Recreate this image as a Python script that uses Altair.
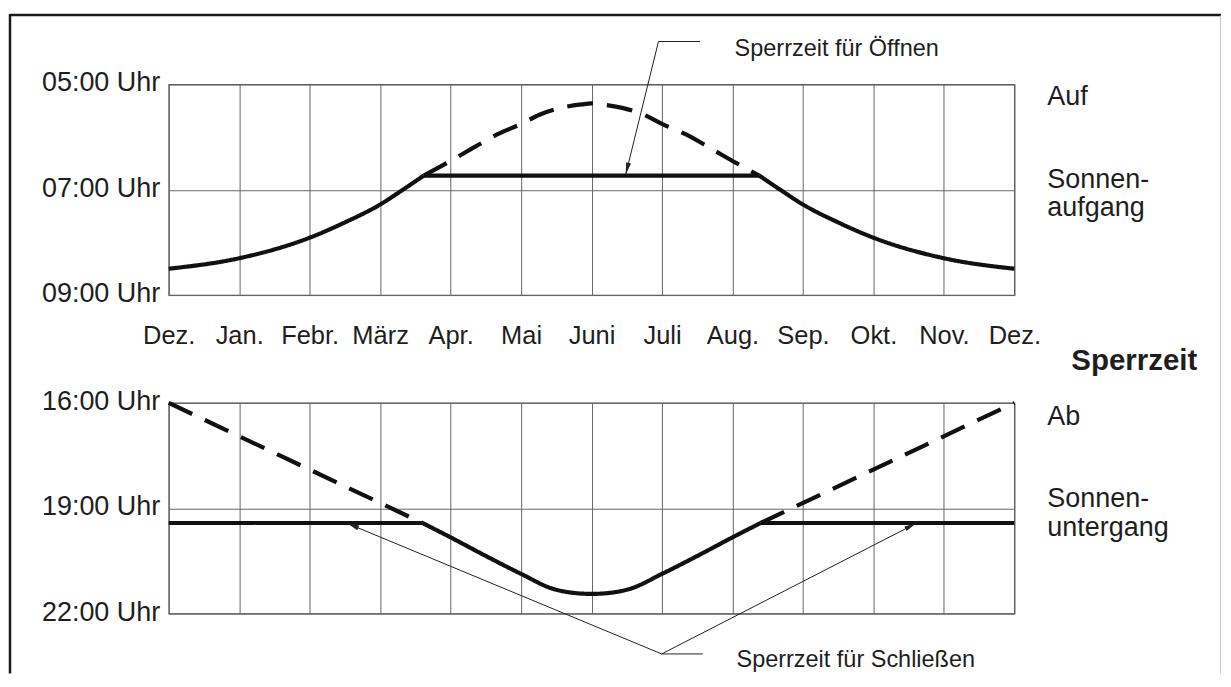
import math
import altair as alt
import pandas as pd

FONT = "Liberation Sans"
INK = "#1e1e1e"

# ---------------- data ----------------
months = ["Dez.", "Jan.", "Febr.", "März", "Apr.", "Mai", "Juni",
          "Juli", "Aug.", "Sep.", "Okt.", "Nov.", "Dez."]
month_pos = list(range(13))

rise_ticks = [5, 7, 9]
rise_tick_labels = ["05:00 Uhr", "07:00 Uhr", "09:00 Uhr"]
set_ticks = [16, 19, 22]
set_tick_labels = ["16:00 Uhr", "19:00 Uhr", "22:00 Uhr"]

# Sonnenaufgang (hours), solid left part
rise_left_t = [0, 1, 2, 2.5, 3, 3.3, 3.62]
rise_left_h = [8.50, 8.30, 7.91, 7.62, 7.28, 7.02, 6.73]
# Sonnenaufgang dashed (inside blocked period)
rise_mid_t = [3.62, 3.95, 4.3, 4.66, 5.0, 5.27, 5.55, 5.86, 6.0,
              6.14, 6.45, 6.73, 7.0, 7.34, 7.7, 8.05, 8.38]
rise_mid_h = [6.73, 6.49, 6.22, 5.95, 5.75, 5.57, 5.45, 5.38, 5.36,
              5.38, 5.45, 5.57, 5.75, 5.95, 6.22, 6.49, 6.73]
# Sonnenaufgang solid right part
rise_right_t = [8.38, 8.7, 9, 9.5, 10, 11, 12]
rise_right_h = [6.73, 7.02, 7.28, 7.62, 7.91, 8.30, 8.50]
# Sperrzeit für Öffnen (flat)
rise_block_t = [3.62, 8.38]
rise_block_h = [6.73, 6.73]

# Sonnenuntergang dashed left
set_left_t = [0, 3.6]
set_left_h = [16.0, 19.42]
# Sonnenuntergang solid (summer)
set_mid_t = [3.6, 4.0, 4.5, 5.0, 5.46, 5.7, 6.0, 6.3, 6.54, 7.0, 7.5, 8.0, 8.4]
set_mid_h = [19.42, 19.83, 20.36, 20.87, 21.30, 21.40, 21.44, 21.40, 21.30,
             20.87, 20.36, 19.83, 19.42]
# Sonnenuntergang dashed right
set_right_t = [8.4, 12]
set_right_h = [19.42, 16.0]
# Sperrzeit für Schließen (flat)
set_block_l_t = [0, 3.6]
set_block_l_h = [19.42, 19.42]
set_block_r_t = [8.4, 12]
set_block_r_h = [19.42, 19.42]

# annotation leader lines (month index, hour)
open_lead_t = [7.54, 6.95, 6.485]
open_lead_h = [4.185, 4.185, 6.71]
close_lead_a_t = [7.58, 6.995, 2.532]
close_lead_a_h = [23.15, 23.15, 19.43]
close_lead_b_t = [6.995, 10.607]
close_lead_b_h = [23.15, 19.43]

# texts
top_text = ["Sperrzeit für Öffnen"]
top_text_t = [8.03]
top_text_h = [4.456]
top_side = ["Auf", ["Sonnen-", "aufgang"]]
top_side_t = [12.468, 12.468]
top_side_h = [5.385, 6.966]
bot_text = ["Sperrzeit für Schließen"]
bot_text_t = [8.057]
bot_text_h = [23.53]
bot_side = ["Ab", ["Sonnen-", "untergang"]]
bot_side_t = [12.468, 12.468]
bot_side_h = [16.626, 18.977]
head_text = ["Sperrzeit"]
head_t = [14.597]
head_h = [15.07]

# ---------------- layout ----------------
W = 847
H = 211

def segs(parts):
    rows = []
    for name, ts, hs, style in parts:
        for i, (t, h) in enumerate(zip(ts, hs)):
            rows.append({"t": t, "h": h, "seg": name, "style": style, "i": i})
    return pd.DataFrame(rows)

def arrow_rows(parts, hspan):
    rows = []
    for (t0, h0, t1, h1) in parts:
        dx = (t1 - t0) * W / 12.0
        dy = (h1 - h0) * H / hspan
        ang = math.degrees(math.atan2(dx, -dy)) % 360
        rows.append({"t": t1, "h": h1, "ang": ang})
    return pd.DataFrame(rows)

month_expr = "[" + ",".join("'%s'" % m for m in months) + "][datum.value]"

def tick_expr(vals, labs):
    return " : ".join("datum.value == %s ? '%s'" % (v, l) for v, l in zip(vals, labs)) + " : ''"

def x_enc(show_labels):
    return alt.X(
        "t:Q",
        scale=alt.Scale(domain=[0, 12], nice=False, zero=False),
        axis=alt.Axis(values=month_pos, labelExpr=month_expr, labels=show_labels,
                      grid=True, gridColor="#666", gridWidth=1, domain=False,
                      ticks=False, labelPadding=29, labelFontSize=25.5, labelFont=FONT,
                      labelColor=INK, labelAngle=0, labelFlush=False,
                      labelOverlap=False, title=None),
    )

def y_enc(dom, vals, labs):
    return alt.Y(
        "h:Q",
        scale=alt.Scale(domain=dom, reverse=True, nice=False, zero=False),
        axis=alt.Axis(values=vals, labelExpr=tick_expr(vals, labs), grid=True,
                      gridColor="#666", gridWidth=1, domain=False, ticks=False,
                      labelPadding=9, labelFontSize=27, labelFont=FONT,
                      labelColor=INK, labelOffset=-1.5, title=None),
    )

ARROW = "M0,0L0.5,2.4L-0.5,2.4Z"
dash_scale = alt.Scale(domain=["solid", "dashed"], range=[[1, 0], [26, 14]])

def text_df(labels, ts, hs):
    return pd.DataFrame({"label": labels, "t": ts, "h": hs})

def panel(line_df, lead_df, arrow_df, text_df_, side_df, X, Y, extra=None):
    lines = alt.Chart(line_df).mark_line(
        strokeWidth=4.2, color="#111", interpolate="monotone", strokeCap="butt"
    ).encode(x=X, y=Y, detail="seg:N", order="i:Q",
             strokeDash=alt.StrokeDash("style:N", scale=dash_scale, legend=None))
    leads = alt.Chart(lead_df).mark_line(strokeWidth=1, color="#222").encode(
        x=X, y=Y, detail="seg:N", order="i:Q")
    heads = alt.Chart(arrow_df).mark_point(
        shape=ARROW, filled=True, size=100, color="#222", opacity=1, strokeWidth=0
    ).encode(x=X, y=Y, angle=alt.Angle("ang:Q", scale=None))
    txt = alt.Chart(text_df_).mark_text(
        align="left", baseline="alphabetic", fontSize=23.5, font=FONT, color=INK
    ).encode(x=X, y=Y, text="label:N")
    side = alt.Chart(side_df).mark_text(
        align="left", baseline="alphabetic", fontSize=27, font=FONT, color=INK,
        lineHeight=28.5
    ).encode(x=X, y=Y, text="label")
    layers = [lines, leads, heads, txt, side]
    if extra is not None:
        layers += extra
    return alt.layer(*layers).properties(width=W, height=H)

# ---------- top panel ----------
top_lines = segs([
    ("l", rise_left_t, rise_left_h, "solid"),
    ("m", rise_mid_t, rise_mid_h, "dashed"),
    ("r", rise_right_t, rise_right_h, "solid"),
    ("b", rise_block_t, rise_block_h, "solid"),
])
top_leads = segs([("a", open_lead_t, open_lead_h, "solid")])
top_arrows = arrow_rows([(open_lead_t[1], open_lead_h[1], open_lead_t[2], open_lead_h[2])], 4.0)

Xt = x_enc(True)
Yt = y_enc([5, 9], rise_ticks, rise_tick_labels)

one = pd.DataFrame({"k": [0]})
frame = [
    alt.Chart(one).mark_rule(color="#1a1a1a", strokeWidth=2.5).encode(
        x=alt.value(-159), x2=alt.value(1054), y=alt.value(-69.5)),
    alt.Chart(one).mark_rule(color="#1a1a1a", strokeWidth=2.5).encode(
        x=alt.value(-159), y=alt.value(-70.5), y2=alt.value(590)),
    alt.Chart(one).mark_rule(color="#c8c8c8", strokeWidth=1).encode(
        x=alt.value(1053.5), y=alt.value(-69), y2=alt.value(590)),
]

top = panel(top_lines, top_leads, top_arrows,
            text_df(top_text, top_text_t, top_text_h),
            text_df(top_side, top_side_t, top_side_h), Xt, Yt, extra=frame)

# ---------- bottom panel ----------
bot_lines = segs([
    ("l", set_left_t, set_left_h, "dashed"),
    ("m", set_mid_t, set_mid_h, "solid"),
    ("r", set_right_t, set_right_h, "dashed"),
    ("bl", set_block_l_t, set_block_l_h, "solid"),
    ("br", set_block_r_t, set_block_r_h, "solid"),
])
bot_leads = segs([
    ("a", close_lead_a_t, close_lead_a_h, "solid"),
    ("b", close_lead_b_t, close_lead_b_h, "solid"),
])
bot_arrows = arrow_rows([
    (close_lead_a_t[1], close_lead_a_h[1], close_lead_a_t[2], close_lead_a_h[2]),
    (close_lead_b_t[0], close_lead_b_h[0], close_lead_b_t[1], close_lead_b_h[1]),
], 6.0)

Xb = x_enc(False)
Yb = y_enc([16, 22], set_ticks, set_tick_labels)

head = alt.Chart(text_df(head_text, head_t, head_h)).mark_text(
    align="right", baseline="alphabetic", fontSize=29.5, fontWeight="bold",
    font=FONT, color=INK
).encode(x=Xb, y=Yb, text="label:N")

bottom = panel(bot_lines, bot_leads, bot_arrows,
               text_df(bot_text, bot_text_t, bot_text_h),
               text_df(bot_side, bot_side_t, bot_side_h), Xb, Yb, extra=[head])

chart = alt.vconcat(top, bottom, spacing=108, bounds="flush").properties(
    padding={"left": 0, "top": 3, "right": 0, "bottom": 0},
    background="white",
).configure_view(stroke="#555", strokeWidth=1.2)

chart.save("out.html", embed_options={"renderer": "svg", "actions": False})
